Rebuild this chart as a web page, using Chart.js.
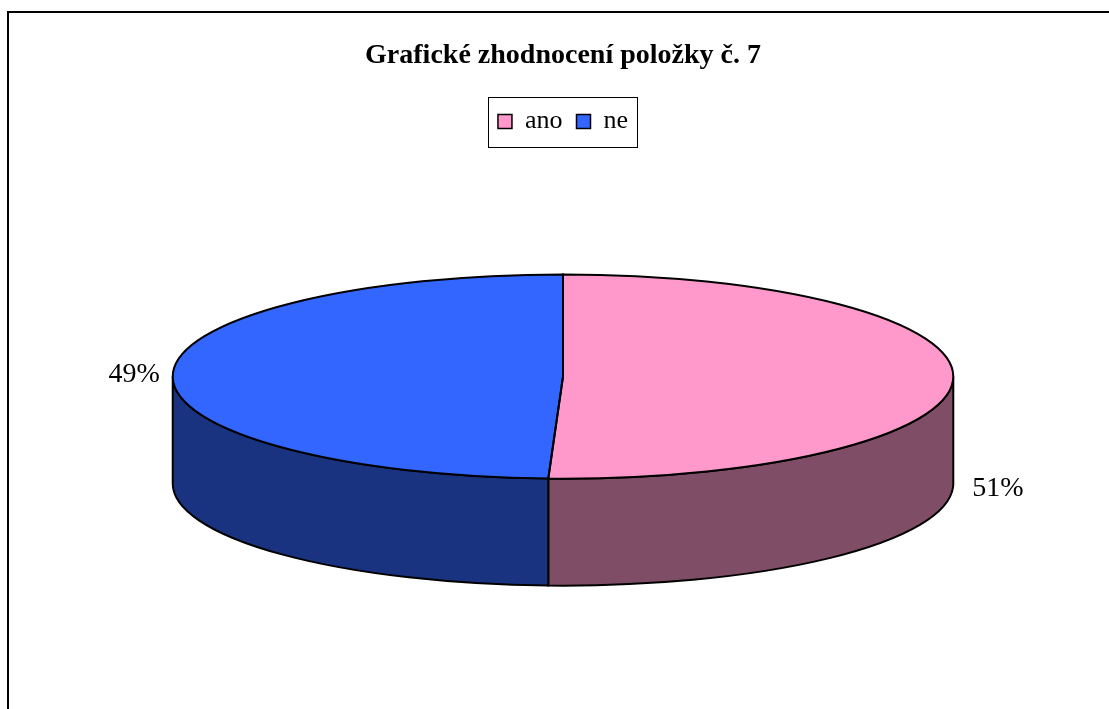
<!DOCTYPE html>
<html>
<head>
<meta charset="utf-8">
<script src="https://cdn.jsdelivr.net/npm/chart.js@4.4.1/dist/chart.umd.min.js"></script>
<style>
  html, body { margin: 0; padding: 0; background: #fff; }
  #wrap { position: relative; width: 1109px; height: 709px; }
</style>
</head>
<body>
<div id="wrap"><canvas id="pie"></canvas></div>
<script>
const chartTitle = 'Grafické zhodnocení položky č. 7';
const labels = ['ano', 'ne'];
const values = [50.6, 49.4];
const topColors = ['#FF99CC', '#3366FF'];
const sideColors = ['#804D66', '#1A3380'];

// how the flat Chart.js circle is squashed into a tilted disc
const TILT = { rx: 1.383, ry: 0.362, depth: 0.379, lift: 0.47 };
const SERIF = "'Liberation Serif', 'Times New Roman', serif";

function discGeom(chart) {
    const arcs = chart.getDatasetMeta(0).data;
    const a = arcs[0];
    const R = a.outerRadius;
    const d = R * TILT.depth;
    return { arcs, R, ox: a.x, oy: a.y, cx: a.x, cy: a.y - d * TILT.lift, rx: R * TILT.rx, ry: R * TILT.ry, d };
}

const disc3d = {
    id: 'disc3d',
    beforeDraw(chart) {
        // frame line (left + top)
        const ctx = chart.ctx;
        ctx.save();
        ctx.fillStyle = '#000';
        ctx.fillRect(7, 11, 2, 709);
        ctx.fillRect(7, 11, 1102, 2);
        ctx.restore();
    },
    beforeDatasetsDraw(chart) {
        // side walls, only the front half is visible
        const g = discGeom(chart);
        const ctx = chart.ctx;
        ctx.save();
        g.arcs.forEach((arc, i) => {
            [0, -2 * Math.PI, 2 * Math.PI].forEach(shift => {
                const a1 = Math.max(arc.startAngle + shift, 0);
                const a2 = Math.min(arc.endAngle + shift, Math.PI);
                if (a2 <= a1) return;
                ctx.beginPath();
                ctx.ellipse(g.cx, g.cy, g.rx, g.ry, 0, a1, a2);
                ctx.lineTo(g.cx + g.rx * Math.cos(a2), g.cy + g.d + g.ry * Math.sin(a2));
                ctx.ellipse(g.cx, g.cy + g.d, g.rx, g.ry, 0, a2, a1, true);
                ctx.closePath();
                ctx.fillStyle = sideColors[i];
                ctx.fill();
                ctx.lineWidth = 2;
                ctx.strokeStyle = '#000';
                ctx.stroke();
            });
        });
        ctx.restore();
    },
    beforeDatasetDraw(chart) {
        const g = discGeom(chart);
        const ctx = chart.ctx;
        ctx.save();
        ctx.translate(g.cx, g.cy);
        ctx.scale(g.rx / g.R, g.ry / g.R);
        ctx.translate(-g.ox, -g.oy);
    },
    afterDatasetDraw(chart) {
        chart.ctx.restore();
    },
    afterDatasetsDraw(chart) {
        const g = discGeom(chart);
        const ctx = chart.ctx;
        const total = values.reduce((s, v) => s + v, 0);
        ctx.save();
        ctx.lineWidth = 2;
        ctx.strokeStyle = '#000';
        g.arcs.forEach(arc => {
            ctx.beginPath();
            ctx.moveTo(g.cx, g.cy);
            ctx.ellipse(g.cx, g.cy, g.rx, g.ry, 0, arc.startAngle, arc.endAngle);
            ctx.closePath();
            ctx.stroke();
        });
        // percentage labels outside the disc
        ctx.font = '28px ' + SERIF;
        ctx.fillStyle = '#000';
        ctx.textBaseline = 'middle';
        g.arcs.forEach((arc, i) => {
            const mid = (arc.startAngle + arc.endAngle) / 2;
            const px = g.cx + g.rx * Math.cos(mid);
            const py = g.cy + g.ry * Math.sin(mid);
            const txt = Math.round(values[i] / total * 100) + '%';
            if (Math.cos(mid) >= 0) {
                ctx.textAlign = 'left';
                ctx.fillText(txt, px + 19, py + g.d + 3);
            } else {
                ctx.textAlign = 'right';
                ctx.fillText(txt, px - 13, py);
            }
        });
        ctx.restore();
    },
    afterDraw(chart) {
        // box round the legend
        const hb = chart.legend.legendHitBoxes;
        if (!hb || !hb.length) return;
        const left = Math.min(...hb.map(h => h.left)) - 10;
        const right = Math.max(...hb.map(h => h.left + h.width)) + 9;
        const mid = hb[0].top + hb[0].height / 2;
        const ctx = chart.ctx;
        ctx.save();
        ctx.lineWidth = 1;
        ctx.strokeStyle = '#000';
        ctx.strokeRect(Math.round(left) + 0.5, Math.round(mid - 25) + 0.5, Math.round(right - left), 50);
        ctx.restore();
    }
};

new Chart(document.getElementById('pie'), {
    type: 'pie',
    data: {
        labels: labels,
        datasets: [{
            data: values,
            backgroundColor: topColors,
            borderWidth: 0,
            clip: false
        }]
    },
    options: {
        responsive: true,
        maintainAspectRatio: false,
        animation: false,
        layout: { padding: { left: 17, bottom: 0 } },
        plugins: {
            title: {
                display: true,
                text: chartTitle,
                color: '#000',
                font: { family: SERIF, size: 28, weight: 'bold' },
                padding: { top: 39, bottom: 22 }
            },
            legend: {
                position: 'top',
                labels: {
                    color: '#000',
                    font: { family: SERIF, size: 26 },
                    boxWidth: 14,
                    boxHeight: 14,
                    padding: 14,
                    generateLabels: () => labels.map((t, i) => ({
                        text: t, fillStyle: topColors[i], strokeStyle: '#000', lineWidth: 1.5, hidden: false, index: i
                    }))
                }
            },
            tooltip: { enabled: false }
        }
    },
    plugins: [disc3d]
});
</script>
</body>
</html>
